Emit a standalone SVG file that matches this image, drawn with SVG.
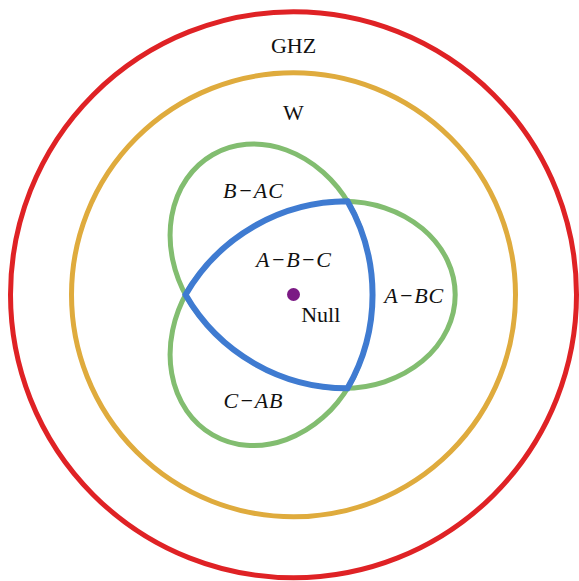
<svg xmlns="http://www.w3.org/2000/svg" width="579" height="581" viewBox="0 0 579 581">
  <style>
    .ring { fill: none; }
    .red { stroke: #df2225; stroke-width: 5; }
    .yellow { stroke: #dfab3d; stroke-width: 5; }
    .green { stroke: #82bd70; stroke-width: 5; fill: none; }
    .blue { stroke: #3f7bd1; stroke-width: 6; fill: none; stroke-linejoin: miter; }
    .lbl { font-family: "Liberation Serif", "Times New Roman", serif; font-size: 22px; fill: #111; text-anchor: middle; }
    .math { font-style: italic; }
  </style>
  <defs>
    <path id="reuleaux" d="M 185.5 294.8 A 187 187 0 0 1 347.5 201.3 A 187 187 0 0 1 347.5 388.3 A 187 187 0 0 1 185.5 294.8 Z"/>
    <mask id="outside" maskUnits="userSpaceOnUse" x="0" y="0" width="579" height="581">
      <rect x="0" y="0" width="579" height="581" fill="#ffffff"/>
      <use href="#reuleaux" fill="#000000"/>
    </mask>
  </defs>
  <rect width="579" height="581" fill="#ffffff"/>
  <g id="ghz">
    <circle class="ring red" cx="293.5" cy="294.8" r="283"/>
    <text class="lbl" x="293.5" y="52.5">GHZ</text>
  </g>
  <g id="w">
    <circle class="ring yellow" cx="293.5" cy="294.8" r="222"/>
    <text class="lbl" x="293.5" y="119.5">W</text>
  </g>
  <g mask="url(#outside)">
    <g id="b-ac-shape" transform="rotate(-120 293.5 294.8)">
      <ellipse class="green" cx="343.5" cy="294.8" rx="111.7" ry="93.56"/>
    </g>
    <g id="a-bc-shape">
      <ellipse class="green" cx="343.5" cy="294.8" rx="111.7" ry="93.56"/>
    </g>
    <g id="c-ab-shape" transform="rotate(120 293.5 294.8)">
      <ellipse class="green" cx="343.5" cy="294.8" rx="111.7" ry="93.56"/>
    </g>
  </g>
  <g id="b-ac">
    <text class="lbl math" x="253" y="197.5" textLength="60" lengthAdjust="spacing">B−AC</text>
  </g>
  <g id="a-bc">
    <text class="lbl math" x="413.7" y="303" textLength="59" lengthAdjust="spacing">A−BC</text>
  </g>
  <g id="c-ab">
    <text class="lbl math" x="253" y="407.5" textLength="59" lengthAdjust="spacing">C−AB</text>
  </g>
  <g id="a-b-c">
    <use href="#reuleaux" class="blue"/>
    <text class="lbl math" x="293.5" y="267" textLength="75" lengthAdjust="spacing">A−B−C</text>
  </g>
  <g id="null">
    <circle cx="293.5" cy="294.5" r="6.5" fill="#7b1a84"/>
    <text class="lbl" x="320.7" y="322">Null</text>
  </g>
  <g id="connectors"></g>
</svg>
